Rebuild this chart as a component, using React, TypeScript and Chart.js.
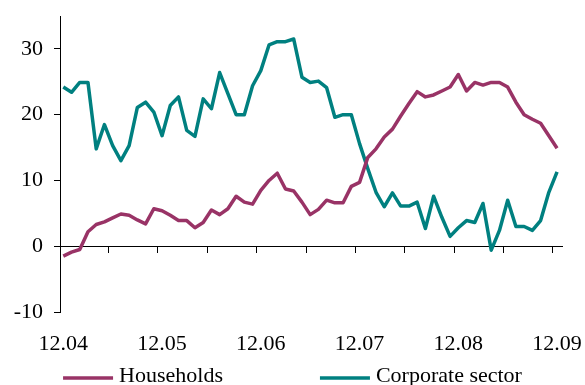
import React, { useEffect, useRef } from "react";
import { Chart, registerables } from "chart.js";

Chart.register(...registerables);

// Tick labels (one per year, December of each year)
const tickLabels = ["12.04", "12.05", "12.06", "12.07", "12.08", "12.09"];

// Monthly values, Dec 2004 .. Dec 2009 (61 months)
const households = [
  -1.5, -0.9, -0.5, 2.2, 3.3, 3.7, 4.3, 4.9, 4.7, 4.0,
  3.4, 5.7, 5.4, 4.7, 3.9, 3.9, 2.8, 3.6, 5.5, 4.8,
  5.7, 7.6, 6.7, 6.4, 8.5, 10.0, 11.1, 8.7, 8.4, 6.7,
  4.8, 5.6, 7.0, 6.6, 6.6, 9.1, 9.7, 13.5, 14.8, 16.6,
  17.8, 19.8, 21.7, 23.5, 22.7, 23.0, 23.6, 24.2, 26.1, 23.6,
  24.9, 24.5, 24.9, 24.9, 24.2, 21.9, 20.0, 19.3, 18.7, 16.8,
  14.9,
];

const corporate = [
  24.2, 23.4, 24.9, 24.9, 14.8, 18.5, 15.3, 13.0, 15.3, 21.1,
  21.9, 20.4, 16.8, 21.4, 22.7, 17.6, 16.7, 22.4, 20.9, 26.4,
  23.2, 20.0, 20.0, 24.4, 26.7, 30.6, 31.1, 31.1, 31.5, 25.7,
  24.9, 25.1, 24.1, 19.6, 20.0, 20.0, 15.6, 11.8, 8.2, 6.0,
  8.1, 6.1, 6.1, 6.7, 2.7, 7.6, 4.4, 1.5, 2.8, 3.9,
  3.6, 6.5, -0.6, 2.4, 7.0, 3.0, 3.0, 2.4, 3.9, 8.2,
  11.3,
];

const seriesNames = ["Households", "Corporate sector"];
const seriesColors = ["#993366", "#008080"];
const yTickValues = [-10, 0, 10, 20, 30];

const FONT_FAMILY = '"Liberation Serif", "Times New Roman", serif';
const FONT_SIZE = 22;

const zeroPadding = (a: any) => {
  a.paddingTop = 0;
  a.paddingBottom = 0;
  a.paddingLeft = 0;
  a.paddingRight = 0;
};

const bottomLegend = {
  id: "bottomLegend",
  afterDraw(chart: any) {
    const ctx = chart.ctx as CanvasRenderingContext2D;
    ctx.save();
    ctx.font = `${FONT_SIZE}px ${FONT_FAMILY}`;
    const lineLen = 50;
    const gap = 6;
    const spacing = 97;
    const items = chart.data.datasets.map((ds: any) => ({
      text: ds.label as string,
      color: ds.borderColor as string,
      w: ctx.measureText(ds.label).width,
    }));
    const total =
      items.reduce((s: number, it: any) => s + lineLen + gap + it.w, 0) +
      spacing * (items.length - 1);
    let x = (chart.width - total) / 2;
    const yLine = chart.height - 7;
    const yText = chart.height - 9;
    items.forEach((it: any) => {
      ctx.strokeStyle = it.color;
      ctx.lineWidth = 3.5;
      ctx.lineCap = "butt";
      ctx.beginPath();
      ctx.moveTo(x, yLine);
      ctx.lineTo(x + lineLen, yLine);
      ctx.stroke();
      ctx.fillStyle = "#000";
      ctx.textBaseline = "middle";
      ctx.textAlign = "left";
      ctx.fillText(it.text, x + lineLen + gap, yText);
      x += lineLen + gap + it.w + spacing;
    });
    ctx.restore();
  },
};

export default function App() {
  const canvasRef = useRef<HTMLCanvasElement | null>(null);

  useEffect(() => {
    const canvas = canvasRef.current;
    if (!canvas) return;
    const font = { family: FONT_FAMILY, size: FONT_SIZE };
    const xMin = -0.4;
    const xMax = households.length - 1 + 0.6;
    const halfYearMarks = Array.from({ length: 10 }, (_, k) => 5.5 + 6 * k);

    const chart = new Chart(canvas, {
      type: "line",
      data: {
        datasets: [
          {
            label: seriesNames[0],
            data: households.map((y, i) => ({ x: i, y })),
            borderColor: seriesColors[0],
            backgroundColor: seriesColors[0],
            borderWidth: 3.5,
            pointRadius: 0,
            tension: 0,
            borderJoinStyle: "round",
            xAxisID: "x",
          },
          {
            label: seriesNames[1],
            data: corporate.map((y, i) => ({ x: i, y })),
            borderColor: seriesColors[1],
            backgroundColor: seriesColors[1],
            borderWidth: 3.5,
            pointRadius: 0,
            tension: 0,
            borderJoinStyle: "round",
            xAxisID: "x",
          },
        ],
      },
      options: {
        animation: false,
        responsive: false,
        devicePixelRatio: 1,
        layout: { padding: { top: 16, right: 23, left: 0, bottom: 0 } },
        plugins: {
          legend: { display: false },
          tooltip: { enabled: false },
        },
        scales: {
          x: {
            type: "linear",
            position: "bottom",
            min: xMin,
            max: xMax,
            afterBuildTicks: (a: any) => {
              a.ticks = tickLabels.map((_, k) => ({ value: k * 12 }));
            },
            afterFit: (a: any) => {
              a.height = 73;
              zeroPadding(a);
            },
            ticks: {
              callback: (v: any) => tickLabels[Math.round(Number(v) / 12)],
              font,
              color: "#000",
              padding: 11,
              maxRotation: 0,
              autoSkip: false,
            },
            grid: { display: false },
            border: { display: false },
          },
          x0: {
            type: "linear",
            position: { y: 0 } as any,
            min: xMin,
            max: xMax,
            afterBuildTicks: (a: any) => {
              a.ticks = halfYearMarks.map((v) => ({ value: v }));
            },
            afterFit: zeroPadding,
            ticks: { display: false },
            grid: {
              drawOnChartArea: false,
              drawTicks: true,
              tickLength: 6,
              color: "#000",
              lineWidth: 1,
            },
            border: { display: true, color: "#000", width: 1 },
          },
          y: {
            type: "linear",
            position: "left",
            min: -10,
            max: 35,
            afterBuildTicks: (a: any) => {
              a.ticks = yTickValues.map((v) => ({ value: v }));
            },
            afterFit: (a: any) => {
              a.width = 60;
              zeroPadding(a);
            },
            ticks: { font, color: "#000", padding: 11 },
            grid: {
              drawOnChartArea: false,
              drawTicks: true,
              tickLength: 6,
              color: "#000",
              lineWidth: 1,
            },
            border: { display: true, color: "#000", width: 1 },
          },
        },
      } as any,
      plugins: [bottomLegend],
    });
    return () => chart.destroy();
  }, []);

  return (
    <div style={{ position: "absolute", left: 0, top: 0, width: 585, height: 385, overflow: "hidden", background: "#fff" }}>
      <canvas ref={canvasRef} width={585} height={385} style={{ display: "block", width: 585, height: 385 }} />
    </div>
  );
}
